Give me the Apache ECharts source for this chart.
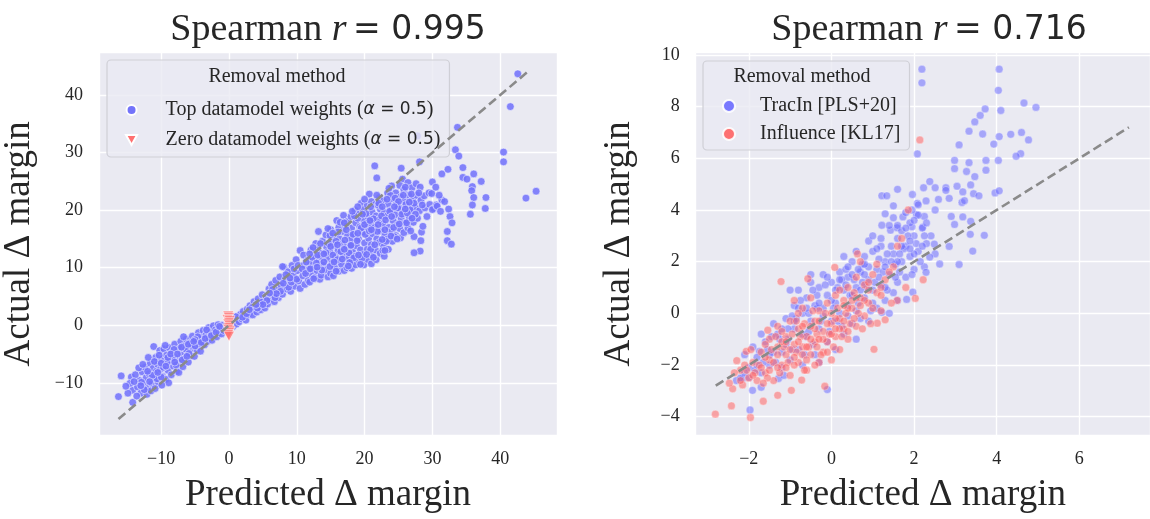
<!DOCTYPE html>
<html lang="en">
  <head>
    <meta charset="UTF-8" />
    <title>Datamodel removal</title>
    <script src="https://cdn.jsdelivr.net/npm/echarts@6/dist/echarts.min.js"></script>
    <style>
      html, body { margin: 0; padding: 0; background: #fff; }
    </style>
  </head>

  <body>
    <div id="main" style="width: 1150px; height: 519px"></div>
    <script type="text/javascript">
      // ---- data ----
      var leftTitle = "0.995";
      var rightTitle = "0.716";
      var leftNames = ["Top datamodel weights (α = 0.5)", "Zero datamodel weights (α = 0.5)"];
      var rightNames = ["TracIn [PLS+20]", "Influence [KL17]"];

      // left panel, "top" removal (x = predicted, y = actual)
      var leftTop = [
        [-16.3,-12.4],[-15.9,-8.8],[-14.4,-9.0],[-14.2,-11.3],[-14.2,-13.4],[-14.6,-10.1],[-13.5,-10.7],[-13.2,-9.6],
        [-13.8,-8.6],[-13.0,-11.8],[-12.8,-8.1],[-12.6,-10.2],[-12.4,-7.3],[-12.2,-9.1],[-12.0,-11.0],[-11.8,-8.4],
        [-11.6,-6.6],[-11.4,-10.1],[-11.1,-3.7],[-11.2,-7.5],[-11.0,-9.2],[-10.8,-5.6],[-10.7,-8.0],[-10.5,-6.8],
        [-10.4,-10.0],[-10.2,-4.4],[-10.1,-7.6],[-9.9,-5.9],[-9.8,-8.9],[-9.6,-4.1],[-9.5,-6.9],[-9.3,-9.4],
        [-9.2,-5.2],[-9.0,-7.8],[-8.8,-3.9],[-8.7,-6.2],[-8.5,-8.6],[-8.4,-4.8],[-8.2,-7.1],[-8.0,-3.3],
        [-7.9,-5.6],[-7.7,-8.0],[-7.5,-4.3],[-7.4,-8.2],[-7.3,-6.5],[-7.1,-2.8],[-7.0,-5.0],[-6.8,-7.2],
        [-6.6,-3.6],[-6.5,-5.8],[-6.3,-2.4],[-6.1,-4.6],[-6.0,-6.4],[-5.8,-3.1],[-5.6,-5.3],[-5.4,-1.9],
        [-5.3,-4.0],[-5.1,-5.4],[-4.9,-2.7],[-4.7,-4.3],[-4.5,-1.3],[-4.4,-3.3],[-4.2,-4.5],[-4.0,-2.1],
        [-3.8,-0.9],[-3.6,-3.4],[-3.4,-1.7],[-3.2,-2.8],[-3.0,-0.4],[-2.9,-2.2],[-2.7,-1.2],[-2.5,-2.6],
        [-2.3,-0.1],[-2.2,-1.7],[-2.0,-0.8],[-1.8,-2.0],[-1.6,0.1],[-1.5,-1.2],[-1.3,-0.5],[-1.1,-1.5],
        [-0.9,0.0],[-0.8,-0.9],
        [-13.6,-12.3],[-12.9,-9.9],[-12.1,-12.0],[-11.5,-11.4],[-10.9,-11.0],[-10.6,-9.3],[-10.0,-9.0],[-9.7,-7.3],
        [-9.1,-6.4],[-8.9,-10.0],[-8.3,-5.7],[-7.8,-6.9],[-7.2,-4.0],[-6.9,-6.0],[-6.4,-4.1],[-5.9,-4.9],
        [-5.5,-3.5],[-5.0,-3.6],[-4.6,-2.0],[-3.9,-2.9],[-3.3,-0.8],[-14.9,-11.8],[-13.3,-7.4],[-11.9,-5.6],
        [-10.3,-5.2],[-9.4,-3.5],[-8.1,-4.2],[-6.7,-2.0],[-12.5,-11.2],[-11.3,-8.7],[-9.9,-10.4],
        [-15.2,-10.6],[-14.0,-9.8],[-13.0,-10.5],[-12.0,-8.0],[-11.0,-6.3],[-10.0,-6.6],[-9.0,-5.6],[-8.0,-6.4],
        [-7.0,-3.8],[-6.0,-3.3],[-5.0,-2.5],[-4.1,-3.0],[-3.5,-2.3],[-2.6,-1.8],[-1.9,-1.2],[-1.4,-0.2],
        [-11.7,-9.8],[-10.5,-8.2],[-9.3,-7.1],[-8.6,-5.0],[-7.6,-5.0],[-6.2,-5.4],[-5.2,-2.8],[-12.7,-6.8],
        [0.6,-0.2],[0.9,0.8],[1.1,0.2],[1.3,1.4],[1.5,0.6],[1.7,1.9],[1.9,1.1],[2.1,2.4],
        [2.3,1.6],[2.5,0.9],[2.7,2.8],[2.9,1.9],[3.1,3.4],[3.3,2.5],[3.5,1.8],[3.7,4.1],
        [3.9,3.0],[4.1,2.3],[4.3,4.6],[4.5,3.5],[4.7,2.7],[4.9,5.3],[5.1,4.1],[5.3,3.0],
        [5.5,5.0],[5.7,3.7],[5.9,6.3],[6.1,4.6],[6.3,7.1],[6.5,5.4],[6.7,4.1],[6.9,7.8],
        [7.1,6.1],[7.3,4.8],[7.5,8.4],[7.7,6.9],[7.9,5.4],[8.1,10.1],[8.3,8.0],[8.5,6.3],
        [8.7,9.3],[8.9,7.3],[9.1,5.9],[9.3,10.4],[9.5,8.6],[9.7,6.8],[9.9,11.4],[10.1,9.5],
        [10.3,7.7],[10.5,6.4],[10.5,13.0],[7.9,10.2],
        [1.0,1.5],[2.0,1.4],[2.6,2.0],[3.4,3.1],[4.2,3.0],[4.8,4.0],[5.6,4.3],[6.4,6.2],
        [6.8,4.8],[7.6,5.9],[8.4,8.8],[8.8,6.6],[9.6,9.8],[9.2,7.5],[10.2,10.4],[10.0,8.0],
        [11.0,12.2],[11.1,10.5],[10.9,8.6],[11.2,7.1],[11.6,11.3],[11.5,9.4],[11.7,7.8],
        [12.1,13.1],[12.0,10.6],[12.2,8.9],[11.9,7.5],[12.6,12.0],[12.5,9.9],[12.7,8.3],[12.8,14.2],
        [13.2,16.3],[13.1,13.3],[13.3,11.2],[13.0,9.5],[13.4,8.0],[13.8,14.6],[13.7,12.5],[13.9,10.4],[13.6,8.7],
        [14.3,15.7],[14.4,13.6],[14.5,11.6],[14.2,9.6],[14.6,8.4],[15.0,16.6],[15.1,14.8],[14.9,12.8],[15.2,10.8],[15.0,9.0],
        [15.9,18.2],[15.6,15.6],[15.5,13.9],[15.7,11.9],[15.6,10.0],[15.4,8.6],
        [16.2,17.0],[16.3,15.0],[16.1,13.0],[16.4,11.2],[16.2,9.4],
        [16.9,19.1],[16.8,16.3],[16.7,14.2],[16.9,12.2],[16.6,10.6],[17.0,9.5],
        [17.4,18.0],[17.5,15.6],[17.3,13.6],[17.6,11.6],[17.4,10.0],
        [18.0,18.9],[18.1,16.9],[17.9,14.8],[18.2,12.9],[18.0,11.0],[18.1,9.9],
        [18.6,20.0],[18.7,17.8],[18.5,15.8],[18.8,13.8],[18.6,12.0],[18.7,10.5],
        [19.2,19.3],[19.3,17.1],[19.1,15.0],[19.4,13.1],[19.2,11.3],
        [19.5,21.2],[19.8,20.1],[19.9,18.2],[19.7,16.2],[20.0,14.3],[19.8,12.3],[19.9,10.5],
        [20.7,22.8],[20.4,20.9],[20.5,18.9],[20.3,17.0],[20.6,15.1],[20.4,13.2],[20.5,11.4],
        [21.0,21.5],[21.1,19.7],[20.9,17.8],[21.2,15.9],[21.0,14.0],[21.1,12.2],[21.0,10.7],
        [21.5,27.7],[21.8,25.6],[21.6,21.0],[21.7,19.0],[21.5,17.0],[21.8,15.0],[21.6,13.1],[21.7,11.4],
        [22.2,22.2],[22.3,20.2],[22.1,18.3],[22.4,16.4],[22.2,14.4],[22.3,12.5],
        [22.8,21.6],[22.9,19.6],[22.7,17.6],[23.0,15.6],[22.8,13.6],[22.9,12.0],
        [23.4,23.0],[23.5,21.0],[23.3,19.0],[23.6,17.0],[23.4,15.0],[23.5,13.2],
        [24.0,24.2],[24.1,22.0],[23.9,20.0],[24.2,18.2],[24.0,16.3],[24.1,14.6],
        [24.6,23.0],[24.7,21.1],[24.5,19.2],[24.8,17.4],[24.6,15.6],
        [25.4,27.3],[25.6,25.4],[25.2,24.3],[25.3,22.3],[25.1,20.4],[25.4,18.5],[25.2,16.8],[25.3,15.2],
        [25.8,23.6],[25.9,21.6],[25.7,19.7],[26.0,17.8],[25.8,16.1],
        [26.4,24.8],[26.5,22.6],[26.3,20.6],[26.6,18.7],[26.4,16.9],
        [27.0,23.9],[27.1,21.8],[26.9,19.8],[27.2,17.9],[27.3,15.4],
        [27.6,24.6],[27.7,22.6],[27.5,20.5],[27.8,18.6],[28.1,28.4],[27.8,32.9],
        [28.2,24.0],[28.3,21.7],[28.1,19.9],[28.4,16.2],[28.3,14.7],[28.2,12.9],[27.3,12.6],
        [28.8,22.5],[28.9,20.4],[28.6,17.2],[29.2,18.9],
        [29.5,23.0],[29.9,22.9],[30.0,24.9],[30.5,24.0],[29.6,21.0],[30.2,20.3],[30.0,20.1],[30.6,20.9],
        [30.7,20.7],[31.4,21.8],[31.4,26.3],[32.3,27.1],[31.0,22.6],[31.2,19.8],
        [32.4,20.2],[32.6,18.9],[32.9,17.8],[32.2,16.3],[32.2,14.7],[32.8,14.1],[31.8,21.5],
        [33.4,30.5],[33.9,29.4],[33.7,34.4],[34.5,27.4],[34.5,25.7],[35.1,25.4],[35.9,24.1],[35.8,23.4],
        [36.1,22.2],[35.9,20.9],[35.6,19.3],[36.1,26.3],[37.2,25.0],[37.9,22.2],[37.8,20.3],
        [40.5,30.1],[40.5,28.4],[41.5,38.0],[42.6,43.7],[43.8,22.1],[45.3,23.3],
        [11.4,11.0],[12.3,11.8],[12.9,10.8],[13.5,12.0],[14.0,11.0],[14.7,14.2],[15.3,12.2],[15.8,14.6],
        [16.5,12.8],[17.1,14.8],[17.7,12.6],[18.3,15.8],[18.9,14.7],[19.5,16.9],[20.1,15.8],[20.7,16.4],
        [21.3,18.5],[21.9,16.3],[22.5,19.0],[23.1,18.3],[23.7,19.8],[24.3,17.0],[24.9,20.4],[25.5,19.3],
        [26.1,21.0],[26.7,20.1],[27.3,21.2],[17.2,17.2],[19.0,18.6],[20.2,19.4],[22.0,20.9],[23.8,22.6],
        [16.0,11.4],[18.4,11.7],[20.9,13.2],[23.2,14.6],[26.2,17.8],[14.9,10.2],[17.8,10.9],[19.6,11.6],
        [22.6,14.9],[24.4,15.4],[9.0,8.2],[8.0,7.3],[7.0,5.5],[6.0,5.6],[5.0,3.6],[4.0,3.6],
        [3.0,2.7],[10.8,9.8],[11.8,9.7],[12.4,13.5],
        [11.3,9.0],[11.9,12.4],[12.5,8.1],[13.1,12.2],[13.7,9.6],[14.3,12.6],[14.9,15.6],[15.5,11.0],
        [16.1,16.2],[16.7,11.5],[17.3,16.6],[17.9,13.8],[18.5,19.0],[19.1,12.2],[19.7,19.3],[20.3,12.3],
        [20.9,20.6],[21.5,14.0],[22.1,21.2],[22.7,13.0],[23.3,21.9],[23.9,15.5],[24.5,22.1],[25.1,17.6],
        [25.7,22.6],[26.3,19.5],[26.9,22.8],[27.5,19.3],[28.0,23.0],[28.5,20.9],
        [12.0,9.8],[13.0,10.1],[14.0,12.4],[15.0,13.7],[16.0,14.0],[17.0,13.2],[18.0,13.9],[19.0,16.0],
        [20.0,17.5],[21.0,16.6],[22.0,17.5],[23.0,16.6],[24.0,18.9],[25.0,21.5],[26.0,20.2],[27.0,18.6],
        [14.6,16.8],[16.4,17.9],[18.2,19.8],[20.0,21.9],[21.8,22.6],[23.6,23.8],[26.0,24.0],
        [15.8,9.4],[17.6,10.3],[19.4,10.6],[21.3,11.8],[23.0,13.0],[24.8,15.0],[26.8,16.4],
        [13.5,14.2],[15.3,16.0],[17.0,17.8],[19.0,20.6],[20.8,18.2],[22.6,20.6],[24.4,20.6],[26.6,21.4]
      ];

      // left panel, "zero" removal
      var leftZero = [
        [-0.1,1.6],[0.0,1.3],[-0.2,1.0],[0.1,0.8],[0.0,0.5],[-0.1,0.2],[0.1,-0.1],
        [0.0,-0.4],[-0.1,-0.7],[0.1,-1.0],[0.0,-1.3],[-0.1,-1.6],[0.0,-1.9]
      ];

      // right panel, TracIn
      var rightTracIn = [
        [2.19,9.45],[2.19,8.92],[4.06,9.45],[4.04,8.63],[4.10,7.85],[4.66,8.14],[4.95,7.97],[3.72,7.91],
        [3.60,7.66],[3.47,7.41],[3.33,7.05],[3.66,6.94],[4.06,6.84],[4.34,6.93],[4.60,7.00],[4.77,6.71],
        [3.93,6.55],[3.09,6.52],[2.08,6.17],[4.58,6.18],[4.47,6.08],[2.98,5.92],[2.98,5.60],[3.33,5.83],
        [3.27,5.49],[3.74,5.92],[3.74,5.54],[4.04,5.92],[3.47,5.29],[2.38,5.10],[2.23,4.86],[2.51,4.86],
        [2.77,4.86],[3.04,4.92],[3.18,4.70],[3.37,4.97],[3.44,4.63],[3.57,4.55],[3.96,4.66],[4.06,4.74],
        [2.77,4.76],[1.60,4.80],[1.22,4.55],[1.34,4.55],[1.96,4.60],[1.50,4.16],[2.08,4.26],[2.29,4.35],
        [2.59,4.41],[2.85,4.45],[3.16,4.29],[3.22,4.36],[3.18,3.73],[3.37,3.56],[3.70,3.02],[3.36,3.06],
        [3.42,2.41],[3.09,1.89],[2.85,2.59],[2.62,1.91],[2.51,2.30],[1.30,3.85],[1.22,3.41],[1.43,3.22],
        [1.59,3.31],[1.73,3.73],[1.95,3.35],[2.21,3.34],[2.06,3.82],[1.95,4.00],[2.25,3.75],[2.51,4.00],
        [2.90,3.75],[2.98,3.44],[2.41,3.00],[2.49,2.68],[2.38,2.18],[2.25,1.80],[2.29,1.59],[1.97,0.82],
        [1.82,0.54],[1.22,0.04],
        [-1.97,-3.74],[-0.10,-2.95],[-1.91,-2.98],[-2.15,-2.52],[-1.70,-2.86],[-1.28,-2.52],[-1.99,-2.48],[-1.74,-1.47],
        [-2.3,-2.6],[-2.2,-2.5],[-2.0,-2.1],[-1.9,-1.3],[-1.8,-1.7],[-1.7,-2.3],[-1.6,-1.1],[-1.5,-2.0],
        [-1.4,-0.4],[-1.4,-1.5],[-1.3,-0.8],[-1.2,-2.1],[-1.1,-0.2],[-1.1,-1.2],[-1.0,0.9],[-1.0,-1.8],
        [-0.9,0.3],[-0.9,-0.6],[-0.8,0.9],[-0.8,-1.4],[-0.7,0.0],[-0.7,-2.0],[-0.6,0.6],[-0.6,-0.9],
        [-0.5,1.2],[-0.5,-0.3],[-0.4,0.3],[-0.4,-1.6],[-0.3,1.0],[-0.3,-0.6],[-0.2,1.5],[-0.2,0.2],
        [-0.1,-1.1],[-0.1,0.7],[0.0,1.2],[0.0,-0.3],[0.1,0.4],[0.1,-1.4],[0.2,1.6],[0.2,0.0],
        [0.3,0.9],[0.3,-0.8],[0.4,1.4],[0.4,0.3],[0.5,2.0],[0.5,-0.4],[0.6,1.0],[0.6,0.1],
        [0.7,1.6],[0.7,-0.2],[0.8,2.2],[0.8,0.6],[0.9,1.3],[0.9,-0.3],[1.0,2.4],[1.0,0.9],
        [1.1,1.7],[1.1,0.2],[1.2,2.6],[1.2,1.1],[1.3,2.0],[1.3,0.5],[1.4,3.4],[1.4,1.5],
        [1.5,2.3],[1.5,0.8],[1.6,2.9],[1.6,1.2],[1.7,3.2],[1.7,2.0],[1.8,2.6],[1.8,1.4],
        [1.9,3.5],[1.9,2.2],[2.0,3.0],[2.0,1.7],[2.1,3.8],[2.1,2.4],[2.2,3.3],[2.3,2.7],
        [0.3,2.2],[-0.5,1.5],[0.9,2.8],[-1.7,-0.8],[0.6,-1.0],[-0.3,-1.9],[1.4,0.0],[1.6,0.5],
        [-2.1,-1.6],[-1.85,-2.2],[-1.65,-1.9],[-1.55,-1.4],[-1.35,-1.9],[-1.25,-1.0],[-1.15,-2.4],[-1.05,-0.6],
        [-0.95,-1.4],[-0.85,-0.2],[-0.75,0.5],[-0.65,-1.6],[-0.55,0.0],[-0.45,-1.2],[-0.35,0.7],[-0.25,-0.3],
        [-0.15,1.1],[-0.05,-0.7],[0.05,0.2],[0.15,1.0],[0.25,-0.5],[0.35,1.7],[0.45,0.7],[0.55,1.3],
        [0.65,0.4],[0.75,1.9],[0.85,1.0],[0.95,0.1],[1.05,1.2],[1.15,2.1],[1.25,1.6],[1.35,0.9],
        [1.45,2.6],[1.55,1.9],[1.65,1.6],[1.75,2.5],[1.85,3.0],[1.95,1.5],[2.05,2.7],[2.25,3.0],
        [-1.45,-0.9],[-1.2,-1.5],[-0.95,-0.1],[-0.7,-0.8],[-0.45,0.9],[-0.2,-0.1],[0.0,0.5],[0.25,1.3],
        [0.5,0.7],[0.7,0.9],[0.9,1.8],[1.15,1.4],[1.35,2.3],[1.6,2.0],[1.8,3.3],[2.0,2.3],
        [-0.55,-0.7],[-0.35,0.2],[0.15,-0.3],[0.4,-0.1],[0.65,1.7],[1.0,0.4],[1.3,1.0],[1.55,1.4],
        [-1.05,-1.0],[-0.8,0.2],[0.35,1.1],[0.8,1.5],[1.9,2.8],[2.15,2.0],
        [1.0,3.0],[1.2,2.9],[1.5,3.7],[1.7,2.6],[1.8,3.9],[2.0,3.6],[2.2,2.6],[2.3,3.5],
        [1.1,2.5],[1.3,1.8],[1.6,3.4],[1.9,2.5],[2.1,4.2],[0.6,2.4],[0.8,1.9],[0.4,1.8],
        [0.2,1.3],[-0.1,1.4],[-0.3,0.4],[-0.6,0.2],[-0.9,-0.3],[-1.2,-0.6],[-1.5,-1.6],[-1.8,-2.0],
        [-2.1,-2.3],[0.1,0.9],[0.5,1.5],[0.75,1.2],[1.45,2.0],[1.65,2.3]
      ];

      // right panel, Influence
      var rightInfluence = [
        [-2.81,-3.90],[-2.42,-3.58],[-1.96,-4.03],[-1.65,-3.40],[-1.30,-3.17],[-0.97,-2.98],[-0.72,-2.58],[-0.16,-2.82],
        [-2.39,-2.92],[-2.47,-2.70],[-2.15,-2.77],[-2.29,-1.83],[-2.06,-1.47],[-1.22,1.23],[-0.57,1.34],[0.08,1.78],
        [0.63,2.30],[1.59,0.50],[1.30,-0.25],[1.11,-0.38],[1.86,4.00],[2.14,6.71],[2.03,0.58],[2.22,1.30],
        [1.03,-1.39],[-1.54,-0.65],
        [-2.2,-2.2],[-2.0,-2.5],[-1.9,-1.9],[-1.8,-2.6],[-1.7,-1.5],[-1.6,-2.3],[-1.5,-1.0],[-1.5,-1.8],
        [-1.4,-2.6],[-1.3,-1.3],[-1.3,-0.5],[-1.2,-2.0],[-1.1,-0.9],[-1.1,-1.6],[-1.0,-2.4],[-1.0,-0.3],
        [-0.9,-1.2],[-0.9,0.5],[-0.8,-1.9],[-0.8,-0.6],[-0.7,-1.3],[-0.7,0.2],[-0.6,-2.2],[-0.6,-0.9],
        [-0.5,-1.6],[-0.5,0.6],[-0.4,-0.3],[-0.4,-1.1],[-0.3,-1.9],[-0.3,0.1],[-0.2,-0.7],[-0.2,-1.5],
        [-0.1,0.4],[-0.1,-1.1],[0.0,-0.4],[0.0,-1.8],[0.1,0.7],[0.1,-0.9],[0.2,-0.2],[0.2,-1.4],
        [0.3,0.5],[0.3,-0.6],[0.4,1.0],[0.4,-1.0],[0.5,0.2],[0.6,1.4],[0.6,-0.5],[0.7,0.6],
        [0.8,1.1],[0.8,-0.1],[0.9,0.4],[1.0,1.5],[1.1,0.8],[1.2,0.1],[1.3,1.3],[1.5,1.8],
        [1.6,2.6],[1.7,2.9],[1.8,1.0],
        [-2.35,-2.3],[-2.1,-2.0],[-1.95,-1.4],[-1.75,-2.0],[-1.55,-2.5],[-1.45,-1.4],[-1.35,-0.9],[-1.25,-2.3],
        [-1.15,-1.3],[-1.05,-1.9],[-0.95,-0.8],[-0.85,-1.5],[-0.75,-0.9],[-0.65,-0.4],[-0.55,-1.3],[-0.45,0.1],
        [-0.35,-0.8],[-0.25,-1.6],[-0.15,0.0],[-0.05,-0.8],[0.05,-1.3],[0.15,0.2],[0.25,-0.9],[0.35,0.0],
        [0.45,-0.4],[0.55,0.8],[0.65,0.0],[0.75,-0.6],[0.9,0.9],[1.1,1.9],[1.2,0.7],[1.4,1.6],
        [1.45,0.4],[0.7,2.0],[0.95,-0.4],
        [-1.85,-2.3],[-1.6,-1.7],[-1.4,-1.9],[-1.2,-1.1],[-1.0,-1.4],[-0.8,-1.1],[-0.6,-1.3],[-0.4,-0.6],
        [-0.2,-1.0],[0.0,-0.8],[0.2,-0.6],[0.4,0.2],[0.55,-0.2],[0.8,0.5],[-0.9,-2.0],[-0.7,-1.6],
        [-0.5,-1.0],[-0.3,-0.3],[-0.1,-0.4],[0.1,-0.2],[-1.3,-1.6],[-1.1,-2.1],[-0.85,-0.3],[0.3,0.3],
        [1.0,0.2],[-2.05,-2.2],[-1.65,-2.7],[-0.65,-2.2],[-0.35,-1.3],[0.6,0.6],
        [-1.9,-2.4],[-1.7,-2.1],[-1.5,-2.2],[-1.3,-2.1],[-1.1,-1.1],[-0.9,-1.7],[-0.7,-0.5],[-0.5,-0.5],
        [-0.3,-1.0],[-0.1,-1.5],[0.1,-0.6],[0.3,-0.3],[0.5,0.5],[0.7,0.3],[0.9,1.2],[-1.2,-0.7],
        [-0.6,-1.8],[-0.4,-2.0],[0.2,0.9],[-0.8,0.0],[-2.2,-2.6],[-1.6,-1.2],[0.0,0.0],[0.4,-0.7],[1.2,1.0]
      ];

      // y = x reference lines
      var leftDiag = [[-16.3,-16.3],[44.3,44.3]];
      var rightDiag = [[-2.8,-2.8],[7.2,7.2]];

      // axis extents
      var leftX = [-19.17, 48.38];
      var leftY = [-19.07, 47.37];
      var rightX = [-3.285, 7.71];
      var rightY = [-4.707, 10.087];

      var ink = "#262626";
      var serif = "'Liberation Serif', 'Times New Roman', serif";
      var sans = "'DejaVu Sans', sans-serif";

      function tickFmt(step) {
        return function (v) {
          if (Math.abs(v - Math.round(v / step) * step) > 1e-6) return "";
          return String(Math.round(v)).replace("-", "\u2212");
        };
      }

      function axis(kind, ext, split, step, gridIndex, name, gap) {
        return {
          type: "value",
          gridIndex: gridIndex,
          min: ext[0],
          max: ext[1],
          splitNumber: split,
          name: name,
          nameLocation: "middle",
          nameGap: gap,
          nameTextStyle: { fontFamily: serif, fontSize: 37, color: ink },
          axisLine: { show: false },
          axisTick: { show: false },
          axisLabel: {
            showMinLabel: false,
            showMaxLabel: false,
            fontFamily: serif,
            fontSize: 18,
            color: ink,
            margin: kind === "x" ? 15 : 16,
            formatter: tickFmt(step),
          },
          splitLine: { lineStyle: { color: "#ffffff", width: 1.4 } },
        };
      }

      function titleText(x, value) {
        return {
          type: "text",
          x: x,
          y: 30,
          z: 10,
          style: {
            text: "{a|Spearman }{b|r}{c|\u2009= " + value + "}",
            align: "center",
            verticalAlign: "middle",
            fill: ink,
            rich: {
              a: { fontFamily: serif, fontSize: 38, fill: ink },
              b: { fontFamily: serif, fontStyle: "italic", fontSize: 38, fill: ink },
              c: { fontFamily: sans, fontSize: 33, fill: ink },
            },
          },
        };
      }

      function legendTitle(x) {
        return {
          type: "text",
          x: x,
          y: 77,
          z: 100,
          style: { text: "Removal method", align: "center", verticalAlign: "middle", fontFamily: serif, fontSize: 20, fill: ink },
        };
      }

      var chart = echarts.init(document.getElementById("main"));

      var option = {
        animation: false,
        backgroundColor: "#ffffff",
        grid: [
          { left: 99, top: 52.7, width: 458, height: 391.3, show: true, backgroundColor: "#EAEAF2", borderWidth: 0 },
          { left: 695.7, top: 52.7, width: 467.5, height: 391.3, show: true, backgroundColor: "#EAEAF2", borderWidth: 0 },
        ],
        xAxis: [
          axis("x", leftX, 6, 10, 0, "Predicted Δ margin", 42),
          axis("x", rightX, 5, 2, 1, "Predicted Δ margin", 42),
        ],
        yAxis: [
          axis("y", leftY, 6, 10, 0, "Actual Δ margin", 61),
          axis("y", rightY, 7, 2, 1, "Actual Δ margin", 58),
        ],
        legend: [
          {
            data: [
              { name: leftNames[0], icon: "circle", itemStyle: { opacity: 1 } },
              { name: leftNames[1], icon: "path://M0,0L10,0L5,9Z", itemStyle: { opacity: 1 } },
            ],
            orient: "vertical",
            left: 107,
            top: 60,
            padding: [38, 9, 5, 18],
            itemWidth: 50,
            itemHeight: 10,
            itemGap: 6,
            backgroundColor: "rgba(234,234,242,0.8)",
            borderColor: "#cfcfd6",
            borderWidth: 1.2,
            borderRadius: 4,
            formatter: function (n) {
              return n.replace("(α = 0.5)", "({m|α}{k| = 0.5})");
            },
            textStyle: {
              fontFamily: serif,
              fontSize: 20,
              lineHeight: 24,
              color: ink,
              padding: [0, 0, 0, 4],
              rich: {
                m: { fontFamily: sans, fontStyle: "italic", fontSize: 17, color: ink },
                k: { fontFamily: sans, fontSize: 17, color: ink },
              },
            },
          },
          {
            data: [
              { name: rightNames[0], icon: "circle", itemStyle: { opacity: 0.9 } },
              { name: rightNames[1], icon: "circle", itemStyle: { opacity: 0.9 } },
            ],
            orient: "vertical",
            left: 703,
            top: 61,
            padding: [33, 9, 4, 19],
            itemWidth: 52,
            itemHeight: 12,
            itemGap: 4,
            backgroundColor: "rgba(234,234,242,0.8)",
            borderColor: "#cfcfd6",
            borderWidth: 1.2,
            borderRadius: 4,
            textStyle: { fontFamily: serif, fontSize: 20, lineHeight: 24, color: ink },
          },
        ],
        graphic: [titleText(328, leftTitle), titleText(929, rightTitle), legendTitle(277), legendTitle(802)],
        series: [
          {
            name: leftNames[0],
            type: "scatter",
            xAxisIndex: 0,
            yAxisIndex: 0,
            data: leftTop,
            symbolSize: 7.8,
            itemStyle: { color: "#7373fa", opacity: 0.88, borderColor: "#ffffff", borderWidth: 0.6 },
          },
          {
            name: leftNames[1],
            type: "scatter",
            xAxisIndex: 0,
            yAxisIndex: 0,
            data: leftZero,
            symbol: "path://M0,0L10,0L5,9Z",
            symbolSize: [11, 10],
            itemStyle: { color: "#ff7070", opacity: 0.8, borderColor: "#ffffff", borderWidth: 0.7 },
          },
          {
            type: "line",
            xAxisIndex: 0,
            yAxisIndex: 0,
            data: leftDiag,
            symbol: "none",
            z: 5,
            lineStyle: { color: "#8a8a8a", width: 2.6, type: [9, 4.5] },
          },
          {
            name: rightNames[0],
            type: "scatter",
            xAxisIndex: 1,
            yAxisIndex: 1,
            data: rightTracIn,
            symbolSize: 7.8,
            itemStyle: { color: "#6b6bff", opacity: 0.55, borderColor: "#ffffff", borderWidth: 0.6 },
          },
          {
            name: rightNames[1],
            type: "scatter",
            xAxisIndex: 1,
            yAxisIndex: 1,
            data: rightInfluence,
            symbolSize: 7.8,
            itemStyle: { color: "#ff6464", opacity: 0.55, borderColor: "#ffffff", borderWidth: 0.6 },
          },
          {
            type: "line",
            xAxisIndex: 1,
            yAxisIndex: 1,
            data: rightDiag,
            symbol: "none",
            z: 5,
            lineStyle: { color: "#8a8a8a", width: 2.6, type: [9, 4.5] },
          },
        ],
      };

      chart.setOption(option);
    </script>
  </body>
</html>
